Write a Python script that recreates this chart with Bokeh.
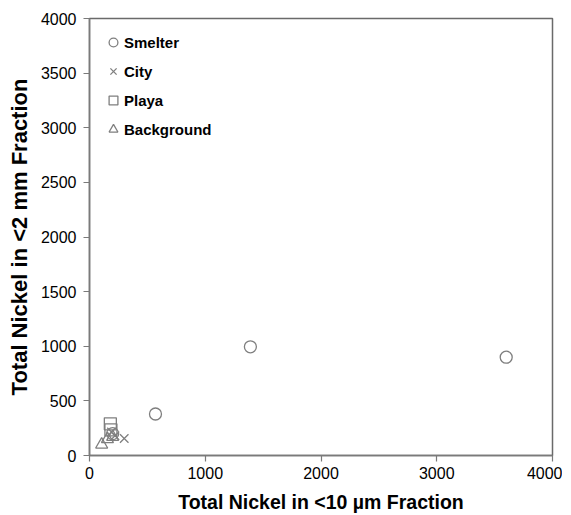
from bokeh.plotting import figure
from bokeh.embed import file_html
from bokeh.resources import INLINE
from bokeh.models import Legend, LegendItem, FixedTicker, Range1d

# Data
smelter_x = [570, 1390, 3600, 200]
smelter_y = [380, 995, 900, 200]
city_x = [300, 220, 190]
city_y = [155, 180, 215]
playa_x = [180, 185]
playa_y = [290, 235]
background_x = [105, 155, 200]
background_y = [100, 150, 170]

x_ticks = [0, 1000, 2000, 3000, 4000]
y_ticks = [0, 500, 1000, 1500, 2000, 2500, 3000, 3500, 4000]

FONT = "Liberation Sans"
GRAY = "#7f7f7f"

p = figure(output_backend="svg", toolbar_location=None,
           frame_width=463, frame_height=437,
           min_border_left=89, min_border_top=18, min_border_right=10, min_border_bottom=40,
           x_range=Range1d(0, 4000), y_range=Range1d(0, 4000))

p.xgrid.visible = False
p.ygrid.visible = False
p.outline_line_color = "#6a6a6a"
p.outline_line_width = 1.5
p.background_fill_color = "white"
p.border_fill_color = "white"

for ax in (p.xaxis[0], p.yaxis[0]):
    ax.axis_line_color = "#7a7a7a"
    ax.axis_line_width = 1.5
    ax.major_tick_line_color = "#7a7a7a"
    ax.major_tick_line_width = 1.2
    ax.major_tick_out = 6
    ax.major_tick_in = 0
    ax.minor_tick_line_color = None
    ax.major_label_text_font = FONT
    ax.major_label_text_font_size = "16px"
    ax.major_label_text_color = "black"
    ax.axis_label_text_font = FONT
    ax.axis_label_text_font_style = "bold"
    ax.axis_label_text_color = "black"

p.xaxis[0].ticker = FixedTicker(ticks=x_ticks)
p.yaxis[0].ticker = FixedTicker(ticks=y_ticks)
p.xaxis[0].major_label_standoff = 5
p.yaxis[0].major_label_standoff = 7
p.xaxis[0].axis_label = "Total Nickel in <10 µm Fraction"
p.yaxis[0].axis_label = "Total Nickel in <2 mm Fraction"
p.xaxis[0].axis_label_text_font_size = "19.5px"
p.yaxis[0].axis_label_text_font_size = "22px"
p.xaxis[0].axis_label_standoff = 9
p.yaxis[0].axis_label_standoff = 6

common = dict(size=12, fill_color=None, line_color=GRAY, line_width=1.3)
r_bg = p.scatter(background_x, background_y, marker="triangle", **common)
r_pl = p.scatter(playa_x, playa_y, marker="square", **common)
r_ci = p.scatter(city_x, city_y, marker="x", **common)
r_sm = p.scatter(smelter_x, smelter_y, marker="circle", **common)

legend = Legend(items=[
    LegendItem(label="Smelter", renderers=[r_sm]),
    LegendItem(label="City", renderers=[r_ci]),
    LegendItem(label="Playa", renderers=[r_pl]),
    LegendItem(label="Background", renderers=[r_bg]),
], location="top_left")
legend.border_line_color = None
legend.background_fill_alpha = 0
legend.margin = 13
legend.padding = 0
legend.spacing = 7
legend.glyph_width = 22
legend.glyph_height = 22
legend.label_height = 22
legend.label_standoff = 0
legend.label_text_font = FONT
legend.label_text_font_style = "bold"
legend.label_text_font_size = "15px"
legend.label_text_color = "black"
p.add_layout(legend, "center")

open("out.html", "w").write(file_html(p, INLINE))
